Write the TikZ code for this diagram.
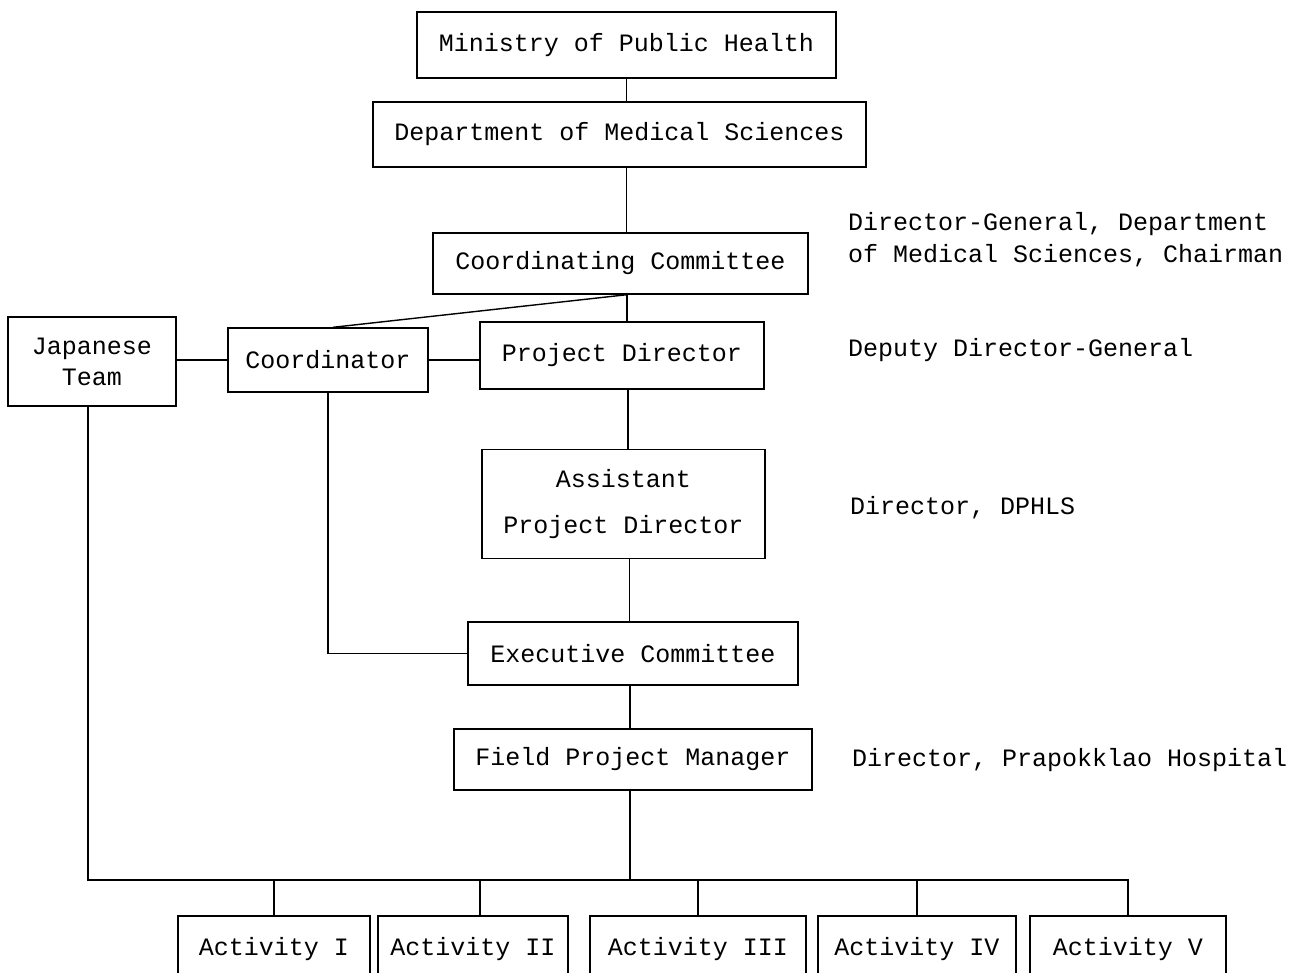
\documentclass[tikz,border=0pt]{standalone}
\usepackage{fontspec}
\setmainfont{Liberation Mono}
\usetikzlibrary{calc}
\begin{document}
\begin{tikzpicture}[x=1pt,y=-1pt,
  box/.style={draw, line width=1.4pt, inner sep=0pt, align=center, font=\fontsize{25}{30}\selectfont},
  lbl/.style={anchor=west, inner sep=0pt, align=left, font=\fontsize{25}{32}\selectfont},
  conn/.style={line width=1.4pt}]
\useasboundingbox (0,0) rectangle (1310,973);
\clip (0,0) rectangle (1310,973);
\fill[white] (0,0) rectangle (1310,973);
% boxes
\node[box, minimum width=419pt, minimum height=66pt] (mph) at (626.5,45) {Ministry of Public Health};
\node[box, minimum width=493pt, minimum height=65pt] (dept) at (619.5,134.5) {Department of Medical Sciences};
\node[box, minimum width=375pt, minimum height=61pt] (cc) at (620.5,263.5) {Coordinating Committee};
\node[box, minimum width=168pt, minimum height=89pt, font=\fontsize{25}{31}\selectfont] (jt) at (92,361.5) {Japanese\\Team};
\node[box, minimum width=200pt, minimum height=64pt] (coord) at (328,360) {Coordinator};
\node[box, minimum width=284pt, minimum height=67pt] (pd) at (622,355.5) {Project Director};
\node[box, minimum width=283pt, minimum height=109pt, font=\fontsize{25}{46}\selectfont] (apd) at (623.5,504) {Assistant\\Project Director};
\node[box, minimum width=330pt, minimum height=63pt] (ec) at (633,653.5) {Executive Committee};
\node[box, minimum width=358pt, minimum height=61pt] (fpm) at (633,759.5) {Field Project Manager};
\node[box, minimum width=192pt, minimum height=66pt] (a1) at (274,949) {Activity I};
\node[box, minimum width=190pt, minimum height=66pt] (a2) at (473,949) {Activity II};
\node[box, minimum width=216pt, minimum height=66pt] (a3) at (698,949) {Activity III};
\node[box, minimum width=198pt, minimum height=66pt] (a4) at (917,949) {Activity IV};
\node[box, minimum width=196pt, minimum height=66pt] (a5) at (1128,949) {Activity V};
% side labels
\node[lbl] (l1) at (848,240) {Director-General, Department\\of Medical Sciences, Chairman};
\node[lbl] (l2) at (848,350) {Deputy Director-General};
\node[lbl] (l3) at (850,508) {Director, DPHLS};
\node[lbl] (l4) at (852,760) {Director, Prapokklao Hospital};
% helper coordinates
\coordinate (sp) at (627,0);
\coordinate (bus) at (0,880);
\coordinate (pdS) at ($(pd.south)+(6,0)$);
\coordinate (apdS) at ($(apd.south)+(6,0)$);
\coordinate (ecS) at ($(ec.south)+(-3,0)$);
\coordinate (fpmS) at ($(fpm.south)+(-3,0)$);
\coordinate (jtS) at ($(jt.south)+(-4,0)$);
\coordinate (a2N) at ($(a2.north)+(7,0)$);
\coordinate (coN) at ($(coord.north)+(5,0)$);
% connectors
\draw[conn] (mph.south) -- (mph.south |- dept.north);
\draw[conn] (mph.south |- dept.south) -- (mph.south |- cc.north);
\draw[conn] (sp |- cc.south) -- (sp |- pd.north);
\draw[conn] (sp |- cc.south) -- (coN);
\draw[conn] (jt.east |- coord.center) -- (coord.west);
\draw[conn] (coord.east) -- (pd.west |- coord.center);
\draw[conn] (pdS) -- (pdS |- apd.north);
\draw[conn] (apdS) -- (apdS |- ec.north);
\draw[conn] (ecS) -- (ecS |- fpm.north);
\draw[conn] (coord.south) -- (coord.south |- ec.west) -- (ec.west);
\draw[conn] (fpmS) -- (fpmS |- bus);
\draw[conn] (jtS) -- (jtS |- bus) -- (a5.north |- bus) -- (a5.north);
\draw[conn] (a1.north |- bus) -- (a1.north);
\draw[conn] (a2N |- bus) -- (a2N);
\draw[conn] (a3.north |- bus) -- (a3.north);
\draw[conn] (a4.north |- bus) -- (a4.north);
\end{tikzpicture}
\end{document}
